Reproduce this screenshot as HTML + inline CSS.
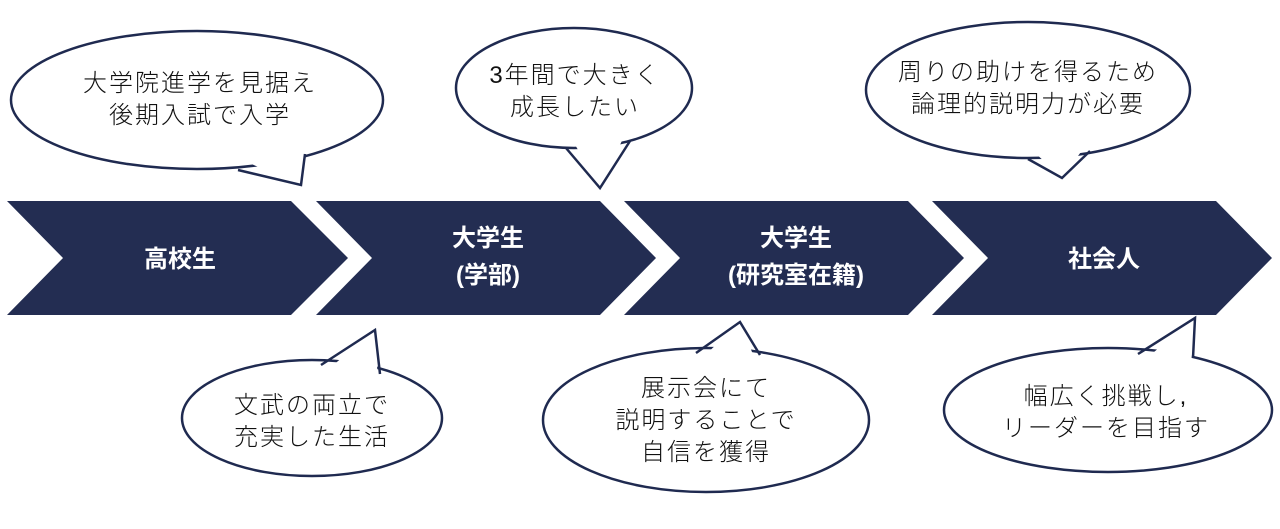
<!DOCTYPE html>
<html><head><meta charset="utf-8"><style>
html,body{margin:0;padding:0;background:#fff;}
svg{display:block;}
.t{font-family:"Liberation Sans","Noto Sans CJK JP",sans-serif;font-size:24px;font-weight:300;fill:#111;text-anchor:middle;letter-spacing:2px;}
.w{font-family:"Liberation Sans","Noto Sans CJK JP",sans-serif;font-size:24px;font-weight:bold;fill:#fff;text-anchor:middle;}
</style></head><body>
<svg width="1280" height="529" viewBox="0 0 1280 529" xmlns="http://www.w3.org/2000/svg">
<g fill="#232d52">
<polygon points="7,201 291,201 348,258 291,315 7,315 63,258"/>
<polygon points="316,201 600,201 656,258 600,315 316,315 372,258"/>
<polygon points="624,201 908,201 964,258 908,315 624,315 680,258"/>
<polygon points="932,201 1216,201 1272,258 1216,315 932,315 988,258"/>
</g>
<text class="w" x="180" y="267">高校生</text>
<text class="w" x="488" y="246">大学生</text>
<text class="w" x="488" y="283">(学部)</text>
<text class="w" x="796" y="246">大学生</text>
<text class="w" x="796" y="283">(研究室在籍)</text>
<text class="w" x="1104" y="267">社会人</text>

<g stroke="#1f2a50" stroke-width="2.5" fill="#fff">
<ellipse cx="197" cy="100" rx="186" ry="69"/>
<ellipse cx="574" cy="88" rx="118" ry="60"/>
<ellipse cx="1028" cy="90" rx="162" ry="68"/>
<ellipse cx="312" cy="418" rx="130" ry="58"/>
<ellipse cx="706" cy="420" rx="163" ry="72"/>
<ellipse cx="1108" cy="410" rx="164" ry="62"/>
</g>
<g fill="#fff" stroke="none">
<polygon points="242,160 301,185 305,146"/>
<polygon points="570,136 600,188 626,132"/>
<polygon points="1032,150 1062,178 1086,145"/>
<polygon points="325,372 375,330 378,382"/>
<polygon points="700,360 740,322 756,362"/>
<polygon points="1142,362 1195,318 1191,366"/>
</g>
<g fill="none" stroke="#1f2a50" stroke-width="2.5" stroke-linejoin="miter">
<polyline points="238,170 301,185 305,154"/>
<polyline points="566,148 600,188 630,141"/>
<polyline points="1028,159 1062,178 1090,151"/>
<polyline points="321,365 375,330 380,374"/>
<polyline points="696,353 740,322 760,355"/>
<polyline points="1138,354 1195,318 1193,358"/>
</g>

<text class="t" x="200" y="91">大学院進学を見据え</text>
<text class="t" x="200" y="123">後期入試で入学</text>
<text class="t" x="575" y="83">3年間で大きく</text>
<text class="t" x="575" y="115">成長したい</text>
<text class="t" x="1028" y="80">周りの助けを得るため</text>
<text class="t" x="1028" y="112">論理的説明力が必要</text>
<text class="t" x="312" y="413">文武の両立で</text>
<text class="t" x="312" y="445">充実した生活</text>
<text class="t" x="706" y="396">展示会にて</text>
<text class="t" x="706" y="428">説明することで</text>
<text class="t" x="706" y="460">自信を獲得</text>
<text class="t" x="1106" y="404">幅広く挑戦し,</text>
<text class="t" x="1106" y="436">リーダーを目指す</text>
</svg>
</body></html>
